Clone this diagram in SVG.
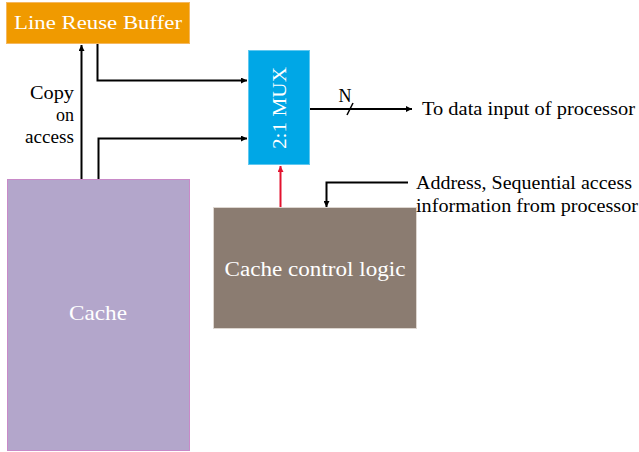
<svg xmlns="http://www.w3.org/2000/svg" width="639" height="452" viewBox="0 0 639 452">
<defs>
<style>
text{font-family:"Liberation Serif","DejaVu Serif",serif;}
.lbl{fill:#000;font-size:18px;font-family:"Liberation Serif","DejaVu Serif",serif;}
.wt{fill:#fff;}
.ln{fill:none;stroke:#000;stroke-width:2;}
</style>
<marker id="ah" viewBox="0 0 10 10" refX="10" refY="5" markerWidth="6" markerHeight="6" markerUnits="userSpaceOnUse" orient="auto">
<path d="M0,0 L10,5 L0,10 z" fill="#000"/>
</marker>
<marker id="ahr" viewBox="0 0 10 10" refX="10" refY="5" markerWidth="6" markerHeight="6" markerUnits="userSpaceOnUse" orient="auto">
<path d="M0,0 L10,5 L0,10 z" fill="#E3122E"/>
</marker>
</defs>
<rect width="639" height="452" fill="#fff"/>
<g id="lrb">
<rect x="6.5" y="2.5" width="183" height="41" fill="#F09A00" stroke="#F5B860" stroke-width="1"/>
<text class="wt" x="98" y="29" font-size="19" text-anchor="middle" textLength="168" lengthAdjust="spacingAndGlyphs">Line Reuse Buffer</text>
</g>
<g id="mux">
<rect x="248.5" y="50.5" width="61" height="114" fill="#00A7E6" stroke="#60C8F0" stroke-width="1"/>
<text class="wt" transform="translate(286,108) rotate(-90)" font-size="19" text-anchor="middle" textLength="82" lengthAdjust="spacingAndGlyphs">2:1 MUX</text>
</g>
<g id="cache">
<rect x="7.5" y="179.5" width="182" height="271" fill="#B3A6CB" stroke="#C88AC8" stroke-width="1"/>
<text class="wt" x="98" y="320" font-size="21" text-anchor="middle" textLength="58" lengthAdjust="spacingAndGlyphs">Cache</text>
</g>
<g id="ccl">
<rect x="213.5" y="207.5" width="203" height="121" fill="#8B7C71" stroke="#DDD6D0" stroke-width="1"/>
<text class="wt" x="315" y="276" font-size="20" text-anchor="middle" textLength="181" lengthAdjust="spacingAndGlyphs">Cache control logic</text>
</g>
<g id="connectors">
<line class="ln" x1="81.5" y1="179" x2="81.5" y2="45" marker-end="url(#ah)"/>
<polyline class="ln" points="97.5,44 97.5,80.5 247,80.5" marker-end="url(#ah)"/>
<polyline class="ln" points="98.5,179 98.5,138.5 247,138.5" marker-end="url(#ah)"/>
<line x1="280.5" y1="207" x2="280.5" y2="166" stroke="#E3122E" stroke-width="2" marker-end="url(#ahr)"/>
<line class="ln" x1="310" y1="109" x2="412" y2="109" marker-end="url(#ah)"/>
<line x1="347" y1="115" x2="353" y2="103" stroke="#000" stroke-width="1.5"/>
<polyline class="ln" points="408,182.5 326.5,182.5 326.5,207" marker-end="url(#ah)"/>
</g>
<g id="labels">
<text class="lbl" x="74" y="99" text-anchor="end" textLength="44" lengthAdjust="spacingAndGlyphs">Copy</text>
<text class="lbl" x="74" y="121" text-anchor="end">on</text>
<text class="lbl" x="74" y="143" text-anchor="end" textLength="49" lengthAdjust="spacingAndGlyphs">access</text>
<text class="lbl" x="345" y="102" text-anchor="middle">N</text>
<text class="lbl" x="422" y="115" textLength="213" lengthAdjust="spacingAndGlyphs">To data input of processor</text>
<text class="lbl" x="416" y="189" textLength="216" lengthAdjust="spacingAndGlyphs">Address, Sequential access</text>
<text class="lbl" x="416" y="212" textLength="222" lengthAdjust="spacingAndGlyphs">information from processor</text>
</g>
</svg>
